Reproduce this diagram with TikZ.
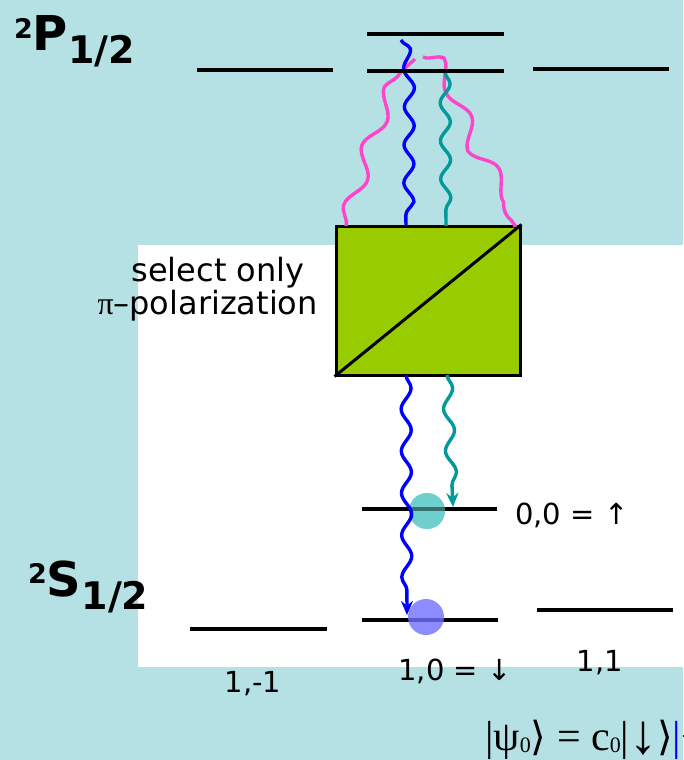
\documentclass[tikz,border=0pt]{standalone}
\usepackage{fontspec}
\setmainfont{DejaVu Sans}
\newfontfamily\serifx{DejaVu Serif}
\newfontfamily\serifl{Liberation Serif}
\usetikzlibrary{decorations.pathmorphing,arrows.meta}
\definecolor{bgc}{HTML}{B5E1E4}
\definecolor{boxg}{HTML}{99CC00}
\definecolor{wblue}{HTML}{0000FF}
\definecolor{wteal}{HTML}{009A9A}
\definecolor{wmag}{HTML}{FF44CC}
\definecolor{cteal}{HTML}{66CCCC}
\definecolor{cblue}{HTML}{7070FF}
\tikzset{
  level/.style={line width=4.5pt, black},
  wave/.style={line width=3.4pt, decorate, decoration={snake, amplitude=5pt, segment length=38pt}},
  wavearr/.style={line width=3.4pt, decorate, decoration={snake, amplitude=5pt, segment length=42pt, post length=14pt}, -{Stealth[length=14pt,width=12pt]}},
  magwave/.style={wmag, line width=3.4pt, decorate, decoration={snake, amplitude=8pt, segment length=62pt}},
  lab/.style={font=\fontsize{29}{31}\selectfont, inner sep=0pt},
  term/.style={font=\fontsize{48}{50}\bfseries\selectfont, inner sep=0pt},
}
\begin{document}
\begin{tikzpicture}[x=1pt,y=-1pt]
\useasboundingbox (0,0) rectangle (683,760);
\fill[bgc] (0,0) rectangle (683,760);
\fill[white] (138,245) rectangle (683,667);

% P levels
\coordinate (pt1) at (367,34); \coordinate (pt2) at (504,34);
\coordinate (pl1) at (197,70); \coordinate (pl2) at (333,70);
\coordinate (pm1) at (367,71); \coordinate (pm2) at (504,71);
\coordinate (pr1) at (533,69); \coordinate (pr2) at (669,69);
\draw[level] (pt1) -- (pt2);
\draw[level] (pl1) -- (pl2);
\draw[level] (pr1) -- (pr2);

% S levels
\coordinate (s01) at (362,509); \coordinate (s02) at (497,509);
\coordinate (sl1) at (190,629); \coordinate (sl2) at (327,629);
\coordinate (sm1) at (362,620); \coordinate (sm2) at (498,620);
\coordinate (sr1) at (537,610); \coordinate (sr2) at (673,610);
\draw[level] (sl1) -- (sl2);
\draw[level] (sr1) -- (sr2);

% polarizer box
\node[draw=black, line width=3pt, fill=boxg, minimum width=184pt, minimum height=149pt, inner sep=0pt] (box) at (428,300.5) {};
\draw[line width=3pt] (box.south west) -- (box.north east);

% wave endpoints
\coordinate (bTop) at (401,40);
\coordinate (bIn) at (406,226);
\coordinate (bOut) at (406,375);
\coordinate (bEnd) at (407,615);
\coordinate (tTop) at (445,72);
\coordinate (tIn) at (446,226);
\coordinate (tOut) at (447,375);
\coordinate (tEnd) at (453,507);
\coordinate (mL) at (346,226);
\coordinate (mLtop) at (415,59);
\coordinate (mRtop) at (423,57);
\coordinate (mR) at (513,226);

% magenta waves
\draw[magwave]
  (mL) .. controls (362,170) and (375,130) .. (390,100) .. controls (398,80) and (400,65) .. (mLtop);
\draw[magwave]
  (mRtop) .. controls (440,65) and (448,100) .. (462,135) .. controls (478,170) and (505,185) .. (mR);

% upper waves
\draw[wblue, wave] (bTop) .. controls (410,60) and (404,100) .. (bIn);
\draw[wteal, wave] (tTop) -- (tIn);

% middle P line over waves
\draw[level] (pm1) -- (pm2);

% circles and lower levels
\fill[cteal, opacity=0.85] (427,511) circle (18);
\draw[level] (s01) -- (s02);
\fill[cteal, opacity=0.55] (427,511) circle (18);

% lower waves
\draw[wteal, wavearr] (tOut) -- (tEnd);
\draw[wblue, wavearr] (bOut) -- (bEnd);

\draw[level] (sm1) -- (sm2);
\fill[cblue, opacity=0.8] (426,617) circle (18);

% labels
\node[term, anchor=base west] (pterm) at (14,51) {\raisebox{13pt}{\fontsize{27}{27}\bfseries\selectfont 2}P\raisebox{-13pt}{\fontsize{38}{38}\bfseries\selectfont 1/2}};
\node[term, anchor=base west] (sterm) at (28,596) {\raisebox{13pt}{\fontsize{27}{27}\bfseries\selectfont 2}S\raisebox{-13pt}{\fontsize{38}{38}\bfseries\selectfont 1/2}};
\node[lab, font=\fontsize{32}{34}\selectfont, anchor=base] (sel1) at (218,281) {select only};
\node[lab, font=\fontsize{32}{34}\selectfont, anchor=base east] (sel2) at (318,314) {{\serifl π}–polarization};
\node[lab, anchor=base west] (l00) at (515,524) {0,0 = ↑};
\node[lab, anchor=base] (l1m) at (253,692) {1,-1};
\node[lab, anchor=base] (l10) at (455,680) {1,0 = ↓};
\node[lab, anchor=base] (l11) at (600,671) {1,1};
\begin{scope}
\clip (0,0) rectangle (683,760);
\node[inner sep=0pt, anchor=base west, font=\serifl\fontsize{42}{44}\selectfont] (psi) at (485,750) {|ψ\raisebox{-2pt}{\fontsize{22}{22}\selectfont 0}{\serifx\fontsize{40}{40}\selectfont ⟩} = c\raisebox{-2pt}{\fontsize{22}{22}\selectfont 0}|\raisebox{-3pt}{\fontsize{56}{56}\bfseries\selectfont ↓}{\serifx\fontsize{40}{40}\selectfont ⟩}\textcolor{wblue}{|}+};
\end{scope}
\end{tikzpicture}
\end{document}
